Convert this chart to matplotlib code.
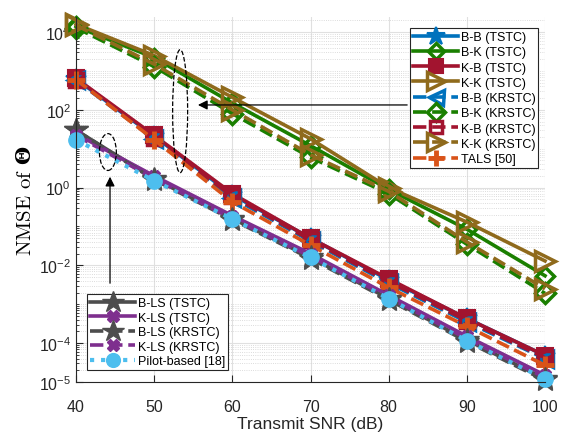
import matplotlib.pyplot as plt
import numpy as np
from matplotlib.patches import Ellipse
from matplotlib import ticker

plt.rcParams['font.family'] = ['Liberation Sans', 'DejaVu Sans']
plt.rcParams['mathtext.fontset'] = 'custom'
plt.rcParams['mathtext.rm'] = 'Liberation Sans'
plt.rcParams['mathtext.it'] = 'Liberation Sans:italic'
plt.rcParams['mathtext.bf'] = 'DejaVu Serif:bold'

snr = [40, 50, 60, 70, 80, 90, 100]

# TSTC
bb_tstc = [620, 21, 0.65, 0.05, 4.2e-3, 4.3e-4, 4.8e-5]
bk_tstc = [1.4e4, 2.2e3, 150, 12, 0.9, 0.085, 5.4e-3]
kb_tstc = [650, 22, 0.7, 0.05, 4.5e-3, 4.3e-4, 4.8e-5]
kk_tstc = [1.6e4, 2.5e3, 210, 18, 1.0, 0.13, 0.013]
# KRSTC
bb_krstc = [580, 18, 0.55, 0.042, 3.5e-3, 3.5e-4, 4.0e-5]
bk_krstc = [1.3e4, 1.3e3, 80, 6, 0.7, 0.035, 1.9e-3]
kb_krstc = [600, 19, 0.6, 0.045, 3.8e-3, 3.8e-4, 4.2e-5]
kk_krstc = [1.5e4, 1.5e3, 100, 7, 0.8, 0.04, 2.5e-3]
tals = [600, 17, 0.43, 0.033, 2.7e-3, 2.7e-4, 2.7e-5]
# LS-based and pilot-based
bls_tstc = [30, 1.7, 0.16, 0.016, 1.4e-3, 1.2e-4, 1.2e-5]
kls_tstc = [24, 2.0, 0.19, 0.02, 1.7e-3, 1.5e-4, 1.5e-5]
bls_krstc = [30, 1.6, 0.15, 0.015, 1.3e-3, 1.1e-4, 1.1e-5]
kls_krstc = [22, 1.7, 0.16, 0.017, 1.5e-3, 1.3e-4, 1.3e-5]
pilot = [17, 1.5, 0.155, 0.016, 1.4e-3, 1.15e-4, 1.2e-5]

blue = '#0072BD'
green = '#1A7F00'
red = '#A2142F'
brown = '#8F6A1C'
orange = '#D95319'
gray = '#4D4D4D'
purple = '#7E2F8E'
cyan = '#4DBEEE'

fig = plt.figure(figsize=(5.61, 4.39), dpi=100)
ax = fig.add_axes([0.1355, 0.1276, 0.8360, 0.8314])

lw = 2.6
kw = dict(lw=lw, clip_on=False)
h = []
h += ax.semilogy(snr, bb_tstc, '-', color=blue, marker='*', ms=15, mfc=blue, mew=1.5, label='B-B (TSTC)', **kw)
h += ax.semilogy(snr, bk_tstc, '-', color=green, marker='D', ms=9, mfc='none', mew=2.5, label='B-K (TSTC)', **kw)
h += ax.semilogy(snr, kb_tstc, '-', color=red, marker='s', ms=11, mfc=red, mew=1.5, label='K-B (TSTC)', **kw)
h += ax.semilogy(snr, kk_tstc, '-', color=brown, marker='>', ms=14, mfc='none', mew=2.5, label='K-K (TSTC)', **kw)
h += ax.semilogy(snr, bb_krstc, '--', color=blue, marker='<', ms=12, mfc='none', mew=2.5, label='B-B (KRSTC)', **kw)
h += ax.semilogy(snr, bk_krstc, '--', color=green, marker='D', ms=10, mfc='none', mew=2.5, label='B-K (KRSTC)', **kw)
h += ax.semilogy(snr, kb_krstc, '--', color=red, marker='s', ms=10, mfc='none', mew=2.5, label='K-B (KRSTC)', **kw)
h += ax.semilogy(snr, kk_krstc, '--', color=brown, marker='>', ms=14, mfc='none', mew=2.5, label='K-K (KRSTC)', **kw)
h += ax.semilogy(snr, tals, '--', color=orange, marker='+', ms=13, mew=3.5, label='TALS [50]', **kw)

g = []
g += ax.semilogy(snr, bls_tstc, '-', color=gray, marker='*', ms=18, mfc=gray, label='B-LS (TSTC)', **kw)
g += ax.semilogy(snr, kls_tstc, '-', color=purple, marker='X', ms=9, mfc=purple, label='K-LS (TSTC)', **kw)
g += ax.semilogy(snr, bls_krstc, '--', color=gray, marker='*', ms=18, mfc=gray, label='B-LS (KRSTC)', **kw)
g += ax.semilogy(snr, kls_krstc, '--', color=purple, marker='X', ms=9, mfc=purple, label='K-LS (KRSTC)', **kw)
g += ax.semilogy(snr, pilot, ':', color=cyan, marker='o', ms=11, mfc=cyan, mec=cyan, label='Pilot-based [18]', lw=3, clip_on=False)

ax.set_xlim(40, 100)
ax.set_ylim(1e-5, 2.45e4)
ax.set_xticks(snr)
ax.set_yticks([1e-5, 1e-4, 1e-2, 1e0, 1e2, 1e4])
ax.set_yticklabels([r'$10^{-5}$', r'$10^{-4}$', r'$10^{-2}$', r'$10^{0}$', r'$10^{2}$', r'$10^{4}$'])
ax.yaxis.set_minor_locator(ticker.LogLocator(base=10, subs=np.arange(1, 10), numticks=30))
ax.yaxis.set_minor_formatter(ticker.NullFormatter())
ax.tick_params(which='both', direction='in', labelsize=11.5, color='#262626', labelcolor='#262626')
ax.tick_params(which='major', length=5)
ax.tick_params(which='minor', length=2.5)
ax.tick_params(axis='x', pad=12)
ax.grid(True, which='major', color='#E0E0E0', lw=0.8)
ax.grid(True, which='minor', axis='y', color='#D0D0D0', ls=':', lw=0.6)
ax.set_axisbelow(True)
for s in ['top', 'right']:
    ax.spines[s].set_visible(False)
for s in ['left', 'bottom']:
    ax.spines[s].set_color('#262626')

ax.set_xlabel('Transmit SNR (dB)', fontsize=12.5, color='#262626', labelpad=2)
ax.set_ylabel(r'NMSE of $\mathbf{\Theta}$', fontsize=15, family='cmr10', labelpad=3)

legkw = dict(loc='upper left', borderaxespad=0, fontsize=9, handlelength=3.6, handletextpad=0.2,
             fancybox=False, edgecolor='#262626', framealpha=1, borderpad=0.25, markerscale=0.9)
leg1 = ax.legend(handles=h, bbox_to_anchor=(0.712, 0.97), labelspacing=0.26, **legkw)
leg1.get_frame().set_linewidth(0.8)
ax.add_artist(leg1)
leg2 = ax.legend(handles=g, bbox_to_anchor=(0.0235, 0.241), labelspacing=0.2, **legkw)
leg2.get_frame().set_linewidth(0.8)

# dashed ellipses grouping the curves, with arrows to the legends
ax.add_patch(Ellipse((0.222, 0.742), 0.032, 0.337, transform=ax.transAxes, fill=False, ls='--', lw=0.9, color='k', zorder=5))
ax.add_patch(Ellipse((0.068, 0.630), 0.036, 0.101, transform=ax.transAxes, fill=False, ls='--', lw=0.9, color='k', zorder=5))
ax.annotate('', xy=(0.254, 0.759), xytext=(0.712, 0.759), xycoords='axes fraction',
            arrowprops=dict(arrowstyle='-|>', lw=0.9, color='k', mutation_scale=14), zorder=5)
ax.annotate('', xy=(0.0725, 0.570), xytext=(0.0725, 0.263), xycoords='axes fraction',
            arrowprops=dict(arrowstyle='-|>', lw=0.9, color='k', mutation_scale=14), zorder=5)

plt.savefig('out.png', dpi=100)
